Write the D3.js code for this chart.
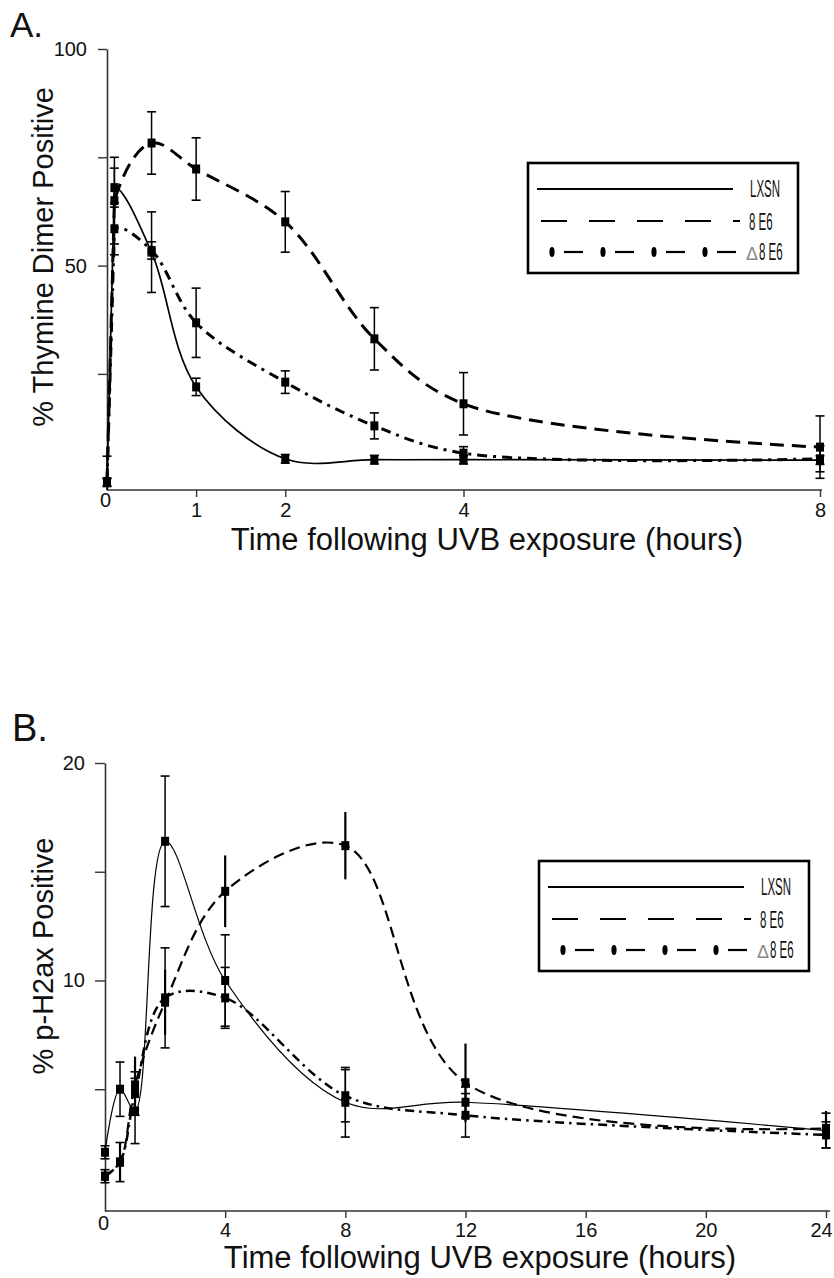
<!DOCTYPE html>
<html><head><meta charset="utf-8">
<script src="https://cdn.jsdelivr.net/npm/d3@7"></script>
<style>
body{margin:0;background:#fff}
svg{display:block}
text{font-family:"Liberation Sans",Arial,Helvetica,sans-serif;fill:#111}
</style>
</head><body>
<svg id="c" width="834" height="1278"></svg>
<script>
// ---------- Panel A data ----------
const timesA   = [0, 0.083, 0.5, 1, 2, 3, 4, 8];
const lxsnA    = [0, 68, 53.1, 22, 5.4, 5.2, 5.2, 5.1];
const lxsnAErr = [0.8, 4.5, 9.3, 2, 1, 1, 1, 1];
const e6A      = [0, 65, 78.3, 72.3, 60.1, 33.1, 18.1, 8.1];
const e6AErr   = [1, 10, 7.2, 7.2, 7, 7.2, 7.2, 7.2];
const d8A      = [0, 58.5, 53.5, 36.8, 23.1, 13, 6.7, 5.4];
const d8AErr   = [6, 6, 2, 8, 2.6, 3, 1.5, 3];
const xTicksA  = [0, 1, 2, 4, 8];
const yTicksA  = [25, 50, 75, 100];
const yLabelsA = [50, 100];

// ---------- Panel B data ----------
const timesB   = [0, 0.5, 1, 2, 4, 8, 12, 24];
const lxsnB    = [2.1, 5.0, 4.0, 16.4, 10.0, 4.4, 4.4, 3.1];
const lxsnBErr = [0.3, 1.25, 1.5, 3, 2.1, 1.6, 0.7, 0.8];
const e6B      = [1.0, 1.65, 5.2, 9.0, 14.1, 16.2, 5.3, 3.2];
const e6BErr   = [0.3, 0.9, 1.3, 1.5, 1.65, 1.55, 1.8, 0.8];
const d8B      = [1.0, 1.65, 4.8, 9.2, 9.2, 4.7, 3.8, 2.9];
const d8BErr   = [0.3, 0.9, 1.0, 2.3, 1.4, 1.2, 1.0, 0.6];
const xTicksB  = [0, 4, 8, 12, 16, 20, 24];
const yTicksB  = [5, 10, 15, 20];
const yLabelsB = [10, 20];

const legendNames = ["LXSN", "8 E6", "8 E6"];
const xTitle = "Time following UVB exposure (hours)";

const svg = d3.select("#c");
const defs = svg.append("defs");

function drawPanel(p) {
  const g = svg.append("g");
  const x = d3.scaleLinear().domain(p.xDomain).range(p.xRange);
  const y = d3.scaleLinear().domain(p.yDomain).range(p.yRange);

  // clip paths
  const top = p.yRange[1] - 40;
  defs.append("clipPath").attr("id", p.id + "plot").append("rect")
    .attr("x", p.xRange[0] - 15).attr("y", top)
    .attr("width", p.xRange[1] - p.xRange[0] + 30).attr("height", p.yRange[0] - top);
  const splineStart = p.straightFirst ? x(p.times[1]) : p.xRange[0] - 15;
  defs.append("clipPath").attr("id", p.id + "spl").append("rect")
    .attr("x", splineStart).attr("y", top)
    .attr("width", p.xRange[1] + 15 - splineStart).attr("height", p.yRange[0] - top);

  // axes
  const ya = d3.axisLeft(y).tickValues(p.yTicks).tickSize(p.yTickSize).tickSizeOuter(0)
    .tickPadding(p.yPad).tickFormat(d => p.yLabels.includes(d) ? d : "");
  const yg = g.append("g").attr("transform", `translate(${p.xRange[0]},0)`).call(ya);
  const xa = d3.axisBottom(x).tickValues(p.xTicks).tickSize(7).tickSizeOuter(0).tickPadding(p.xPad);
  const xg = g.append("g").attr("transform", `translate(0,${p.yRange[0]})`).call(xa);
  [yg, xg].forEach(a => {
    a.select(".domain").attr("stroke", "#333").attr("stroke-width", 1.6);
    a.selectAll(".tick line").attr("stroke", "#333").attr("stroke-width", 1.4);
    a.selectAll(".tick text").style("font-size", "20px").attr("fill", "#111");
  });
  xg.select(".domain").attr("d", `M${p.xRange[0]},0H${p.xRange[1] + p.xExtra}`);
  xg.selectAll(".tick").filter(d => d === 0).select("line").remove();
  xg.selectAll(".tick").filter(d => d === 0).select("text").attr("y", p.zeroY).attr("x", -2);
  xg.selectAll(".tick").filter(d => d === p.xDomain[1]).select("text").attr("x", p.lastDx);

  // lines
  const curveLine = d3.line().x(d => x(d[0])).y(d => y(d[1])).curve(d3.curveCatmullRom.alpha(0.5));
  const straight = d3.line().x(d => x(d[0])).y(d => y(d[1]));
  const lg = g.append("g").attr("clip-path", `url(#${p.id}plot)`);
  p.series.forEach(s => {
    const pts = p.times.map((t, i) => [t, s.v[i]]);
    const style = sel => sel.attr("fill", "none").attr("stroke", "#000").attr("stroke-width", s.w)
      .attr("stroke-dasharray", s.dash || null).attr("stroke-linecap", "butt");
    lg.append("path").attr("d", curveLine(pts)).attr("clip-path", `url(#${p.id}spl)`).call(style);
    if (p.straightFirst) lg.append("path").attr("d", straight(pts.slice(0, 2))).call(style);
  });
  // error bars
  const eg = g.append("g").attr("clip-path", `url(#${p.id}plot)`);
  p.series.forEach(s => {
    p.times.forEach((t, i) => {
      const cx = x(t), y1 = y(s.v[i] + s.e[i]), y2 = y(s.v[i] - s.e[i]);
      eg.append("line").attr("x1", cx).attr("x2", cx).attr("y1", y1).attr("y2", y2)
        .attr("stroke", "#000").attr("stroke-width", s.ew);
      if (s.cap > 0) {
        [y1, y2].forEach(yy => eg.append("line").attr("x1", cx - s.cap).attr("x2", cx + s.cap)
          .attr("y1", yy).attr("y2", yy).attr("stroke", "#000").attr("stroke-width", 1.6));
      }
    });
  });
  // markers
  p.series.forEach(s => {
    p.times.forEach((t, i) => {
      eg.append("rect").attr("x", x(t) - 4).attr("y", y(s.v[i]) - 4.5)
        .attr("width", 8).attr("height", 9).attr("fill", "#000");
    });
  });

  // titles
  g.append("text").attr("x", p.letterX).attr("y", p.letterY).style("font-size", p.letterSize + "px").text(p.letter);
  g.append("text").attr("transform", `translate(53,${p.yTitleY}) rotate(-90)`)
    .attr("text-anchor", "middle").style("font-size", "29px").text(p.yTitle);
  g.append("text").attr("x", p.xTitleX).attr("y", p.xTitleY).attr("text-anchor", "middle")
    .style("font-size", "31px").text(xTitle);

  // legend
  const L = g.append("g").attr("transform", `translate(${p.legX},${p.legY})`);
  L.append("rect").attr("x", 0).attr("y", 0).attr("width", 270).attr("height", 110)
    .attr("fill", "#fff").attr("stroke", "#000").attr("stroke-width", 2.6);
  L.append("line").attr("x1", 9).attr("x2", 205).attr("y1", 26).attr("y2", 26)
    .attr("stroke", "#000").attr("stroke-width", 2.2);
  L.append("line").attr("x1", 13).attr("x2", 212).attr("y1", 58).attr("y2", 58)
    .attr("stroke", "#000").attr("stroke-width", 2.2).attr("stroke-dasharray", "26,22");
  d3.range(4).forEach(i => {
    L.append("ellipse").attr("cx", 24 + 51 * i).attr("cy", 89).attr("rx", 2.6).attr("ry", 5).attr("fill", "#000");
    L.append("line").attr("x1", 36 + 51 * i).attr("x2", 55 + 51 * i).attr("y1", 89).attr("y2", 89)
      .attr("stroke", "#000").attr("stroke-width", 2.2);
  });
  const cond = (tx, ty, str) => L.append("text")
    .attr("transform", `translate(${tx},${ty}) scale(0.5,1)`).style("font-size", "23px").text(str);
  cond(222, 34, legendNames[0]);
  cond(221, 67, legendNames[1]);
  L.append("text").attr("x", 218).attr("y", 97).style("font-size", "18px")
    .style("fill", "#888").text("\u0394");
  cond(231, 97, legendNames[2]);
}

drawPanel({
  id: "A", straightFirst: true,
  xDomain: [0, 8], xRange: [107, 820], xExtra: 2, lastDx: 0,
  yDomain: [-1.8, 100], yRange: [490, 49],
  xTicks: xTicksA, yTicks: yTicksA, yLabels: yLabelsA, yTickSize: 9, yPad: 11, xPad: 6, zeroY: 3,
  times: timesA,
  series: [
    {v: lxsnA, e: lxsnAErr, w: 1.7, dash: null, ew: 1.5, cap: 4.5},
    {v: e6A, e: e6AErr, w: 3, dash: "14,8", ew: 1.5, cap: 4.5},
    {v: d8A, e: d8AErr, w: 3, dash: "10,6,3,6", ew: 1.5, cap: 4.5}
  ],
  letter: "A.", letterX: 10, letterY: 37, letterSize: 35,
  yTitle: "% Thymine Dimer Positive", yTitleY: 257,
  xTitleX: 487, xTitleY: 550,
  legX: 528, legY: 163
});

drawPanel({
  id: "B", straightFirst: false,
  xDomain: [0, 24], xRange: [105, 826], xExtra: 4, lastDx: -5,
  yDomain: [-0.6, 20], yRange: [1211, 763],
  xTicks: xTicksB, yTicks: yTicksB, yLabels: yLabelsB, yTickSize: 10, yPad: 10, xPad: 5, zeroY: 5,
  times: timesB,
  series: [
    {v: lxsnB, e: lxsnBErr, w: 1.2, dash: null, ew: 1.5, cap: 4.5},
    {v: e6B, e: e6BErr, w: 2.2, dash: "11,6", ew: 2.2, cap: 0},
    {v: d8B, e: d8BErr, w: 2.5, dash: "9,5,2.5,5", ew: 1.5, cap: 4.5}
  ],
  letter: "B.", letterX: 12, letterY: 741, letterSize: 38,
  yTitle: "% p-H2ax Positive", yTitleY: 956,
  xTitleX: 480, xTitleY: 1268,
  legX: 539, legY: 861
});
</script>
</body></html>
